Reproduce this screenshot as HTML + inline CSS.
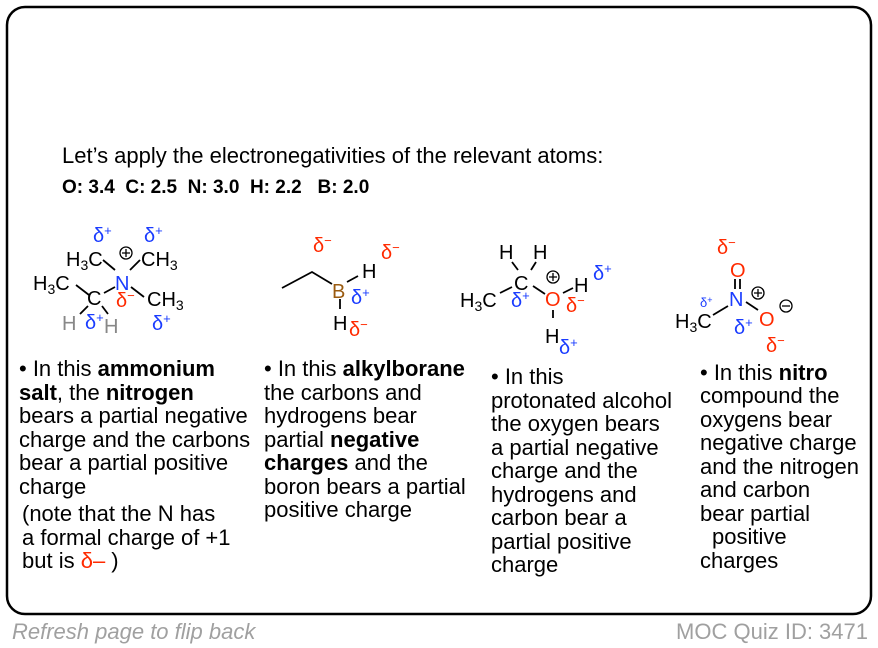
<!DOCTYPE html>
<html><head><meta charset="utf-8"><style>
html,body{margin:0;padding:0;background:#fff;}
svg{display:block;font-family:"Liberation Sans",Arial,sans-serif;}
.b{font-weight:bold}
.blue{fill:#1a3cff}.red{fill:#ff2a00}
</style></head><body>
<svg width="878" height="648" viewBox="0 0 878 648" xmlns="http://www.w3.org/2000/svg">
<rect x="7" y="7" width="864" height="607" rx="18" fill="#fff" stroke="#000" stroke-width="2.5"/>
<text x="62" y="163" font-size="22">Let’s apply the electronegativities of the relevant atoms:</text>
<text x="62" y="193" font-size="19" class="b" xml:space="preserve">O: 3.4  C: 2.5  N: 3.0  H: 2.2   B: 2.0</text>

<!-- structure 1 -->
<g font-size="20">
<text x="93" y="242" class="blue">δ<tspan font-size="13" dy="-7">+</tspan></text>
<text x="144" y="242" class="blue">δ<tspan font-size="13" dy="-7">+</tspan></text>
<text x="66" y="266">H<tspan font-size="14" dy="4">3</tspan><tspan dy="-4">C</tspan></text>
<circle cx="126" cy="253" r="6" fill="none" stroke="#000" stroke-width="1.3"/>
<path d="M122 253h8M126 249v8" stroke="#000" stroke-width="1.3"/>
<text x="141" y="266">CH<tspan font-size="14" dy="4">3</tspan></text>
<text x="33" y="290">H<tspan font-size="14" dy="4">3</tspan><tspan dy="-4">C</tspan></text>
<text x="115" y="290" class="blue">N</text>
<text x="87" y="305">C</text>
<text x="116" y="307" class="red">δ<tspan font-size="13" dy="-7">−</tspan></text>
<text x="147" y="306">CH<tspan font-size="14" dy="4">3</tspan></text>
<text x="62" y="330" fill="#888">H</text>
<text x="85" y="329" class="blue">δ<tspan font-size="13" dy="-7">+</tspan></text>
<text x="104" y="333" fill="#888">H</text>
<text x="152" y="330" class="blue">δ<tspan font-size="13" dy="-7">+</tspan></text>
</g>
<g stroke="#000" stroke-width="1.8" fill="none">
<path d="M103 260l12 10M140 260l-10 10M76 285l13 10M104 293l11-6M131 287l13 10M88 306l-8 8M102 306l6 8"/>
</g>

<!-- structure 2 -->
<g font-size="20">
<text x="313" y="252" class="red">δ<tspan font-size="13" dy="-7">−</tspan></text>
<text x="381" y="259" class="red">δ<tspan font-size="13" dy="-7">−</tspan></text>
<text x="362" y="278">H</text>
<text x="332" y="298" fill="#9a5b10">B</text>
<text x="351" y="304" class="blue">δ<tspan font-size="13" dy="-7">+</tspan></text>
<text x="333" y="330">H</text>
<text x="349" y="336" class="red">δ<tspan font-size="13" dy="-7">−</tspan></text>
</g>
<g stroke="#000" stroke-width="1.8" fill="none">
<path d="M282 288l30-16l20 12M347 282l11-6M340 299v10"/>
</g>

<!-- structure 3 -->
<g font-size="20">
<text x="499" y="259">H</text>
<text x="533" y="259">H</text>
<text x="514" y="290">C</text>
<circle cx="553" cy="277" r="6" fill="none" stroke="#000" stroke-width="1.3"/>
<path d="M549 277h8M553 273v8" stroke="#000" stroke-width="1.3"/>
<text x="574" y="292">H</text>
<text x="593" y="280" class="blue">δ<tspan font-size="13" dy="-7">+</tspan></text>
<text x="460" y="307">H<tspan font-size="14" dy="4">3</tspan><tspan dy="-4">C</tspan></text>
<text x="511" y="307" class="blue">δ<tspan font-size="13" dy="-7">+</tspan></text>
<text x="545" y="306" class="red">O</text>
<text x="566" y="312" class="red">δ<tspan font-size="13" dy="-7">−</tspan></text>
<text x="545" y="343">H</text>
<text x="559" y="354" class="blue">δ<tspan font-size="13" dy="-7">+</tspan></text>
</g>
<g stroke="#000" stroke-width="1.8" fill="none">
<path d="M512 262l6 8M536 262l-5 8M500 293l12-6M533 286l12 8M563 293l10-5M553 310v8"/>
</g>

<!-- structure 4 -->
<g font-size="20">
<text x="717" y="254" class="red">δ<tspan font-size="13" dy="-7">−</tspan></text>
<text x="730" y="277" class="red">O</text>
<text x="729" y="306" class="blue">N</text>
<circle cx="758" cy="293" r="6" fill="none" stroke="#000" stroke-width="1.3"/>
<path d="M754 293h8M758 289v8" stroke="#000" stroke-width="1.3"/>
<circle cx="786" cy="306" r="6" fill="none" stroke="#000" stroke-width="1.3"/>
<path d="M782 306h8" stroke="#000" stroke-width="1.3"/>
<text x="700" y="307" font-size="13" class="blue">δ<tspan font-size="9" dy="-4">+</tspan></text>
<text x="675" y="328">H<tspan font-size="14" dy="4">3</tspan><tspan dy="-4">C</tspan></text>
<text x="734" y="334" class="blue">δ<tspan font-size="13" dy="-7">+</tspan></text>
<text x="759" y="326" class="red">O</text>
<text x="766" y="352" class="red">δ<tspan font-size="13" dy="-7">−</tspan></text>
</g>
<g stroke="#000" stroke-width="1.8" fill="none">
<path d="M735 279v10M740 279v10M713 315l15-9M746 302l12 8"/>
</g>

<!-- text columns -->
<g font-size="22">
<text x="19" y="376">• In this <tspan class="b">ammonium</tspan></text>
<text x="19" y="400"><tspan class="b">salt</tspan>, the <tspan class="b">nitrogen</tspan></text>
<text x="19" y="423">bears a partial negative</text>
<text x="19" y="447">charge and the carbons</text>
<text x="19" y="470">bear a partial positive</text>
<text x="19" y="494">charge</text>
<text x="22" y="521">(note that the N has</text>
<text x="22" y="545">a formal charge of +1</text>
<text x="22" y="568" xml:space="preserve">but is <tspan class="red">δ–</tspan> )</text>

<text x="264" y="376">• In this <tspan class="b">alkylborane</tspan></text>
<text x="264" y="400">the carbons and</text>
<text x="264" y="423">hydrogens bear</text>
<text x="264" y="447">partial <tspan class="b">negative</tspan></text>
<text x="264" y="470"><tspan class="b">charges</tspan> and the</text>
<text x="264" y="494">boron bears a partial</text>
<text x="264" y="517">positive charge</text>

<text x="491" y="384">• In this</text>
<text x="491" y="408">protonated alcohol</text>
<text x="491" y="431">the oxygen bears</text>
<text x="491" y="455">a partial negative</text>
<text x="491" y="478">charge and the</text>
<text x="491" y="502">hydrogens and</text>
<text x="491" y="525">carbon bear a</text>
<text x="491" y="549">partial positive</text>
<text x="491" y="572">charge</text>

<text x="700" y="380">• In this <tspan class="b">nitro</tspan></text>
<text x="700" y="403">compound the</text>
<text x="700" y="427">oxygens bear</text>
<text x="700" y="450">negative charge</text>
<text x="700" y="474">and the nitrogen</text>
<text x="700" y="497">and carbon</text>
<text x="700" y="521">bear partial</text>
<text x="712" y="544">positive</text>
<text x="700" y="568">charges</text>
</g>

<text x="12" y="639" font-size="22" font-style="italic" fill="#a0a0a0">Refresh page to flip back</text>
<text x="868" y="639" font-size="22" fill="#a0a0a0" text-anchor="end">MOC Quiz ID: 3471</text>
</svg>
</body></html>
